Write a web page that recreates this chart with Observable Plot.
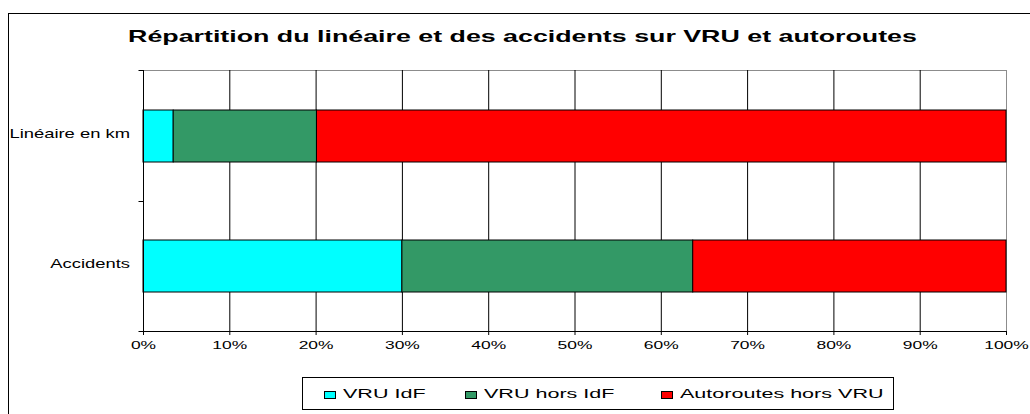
<!DOCTYPE html>
<html>
<head>
<meta charset="utf-8">
<script src="https://cdn.jsdelivr.net/npm/d3@7"></script>
<script src="https://cdn.jsdelivr.net/npm/@observablehq/plot@0.6"></script>
<style>
  html, body { margin: 0; padding: 0; background: #fff; overflow: hidden; }
  #wrap { position: relative; width: 1030px; height: 414px; font-family: "Liberation Sans", Arial, sans-serif; color: #000; }
  #chart { position: absolute; left: 0; top: 0; }
  #border { position: absolute; left: 8px; top: 13px; width: 1100px; height: 500px; border: 1px solid #000; box-sizing: border-box; pointer-events: none; }
  #title { position: absolute; left: 0; top: 28px; width: 1044px; text-align: center; font-weight: bold; font-size: 17.3px; line-height: 1; white-space: nowrap; }
  #title span { display: inline-block; transform: scaleX(1.55); transform-origin: 50% 50%; }
  #legend { position: absolute; left: 302px; top: 377px; width: 592px; height: 33px; border: 1px solid #000; box-sizing: border-box; }
  .sw { position: absolute; width: 10px; height: 6px; border: 1px solid #000; }
  .lt { position: absolute; font-size: 12.6px; line-height: 1; white-space: nowrap; transform: scaleX(1.71); transform-origin: 0 50%; }
</style>
</head>
<body>
<div id="wrap">
  <div id="chart"></div>
  <div id="title"><span></span></div>
  <div id="legend"></div>
  <div id="border"></div>
</div>
<script>
// ---- data ----
const chartTitle = "Répartition du linéaire et des accidents sur VRU et autoroutes";
const categories = ["Linéaire en km", "Accidents"];
const series = ["VRU IdF", "VRU hors IdF", "Autoroutes hors VRU"];
const seriesColors = ["#00FFFF", "#339966", "#FF0000"];
const lineaireShares = [0.035, 0.166, 0.799];
const accidentShares = [0.300, 0.337, 0.363];
const xTicks = [0, 0.1, 0.2, 0.3, 0.4, 0.5, 0.6, 0.7, 0.8, 0.9, 1];
const xTickLabels = ["0%", "10%", "20%", "30%", "40%", "50%", "60%", "70%", "80%", "90%", "100%"];

const shares = [lineaireShares, accidentShares];
const rows = [];
categories.forEach((c, ci) => series.forEach((s, si) => rows.push({category: c, series: s, value: shares[ci][si]})));

// boundary ticks on the category axis + bottom axis line
function categoryAxisFrame(index, scales, values, dims) {
  const {width, height, marginLeft, marginRight, marginTop, marginBottom} = dims;
  const x0 = marginLeft, x1 = width - marginRight, y0 = marginTop, y1 = height - marginBottom;
  const n = categories.length;
  const g = d3.create("svg:g").attr("stroke", "#000").attr("fill", "none").attr("transform", "translate(0.5,0.5)");
  for (let k = 0; k <= n; k++) {
    const y = Math.round(y0 + k * (y1 - y0) / n);
    g.append("path").attr("d", `M${x0 - 5},${y}H${x0}`);
  }
  g.append("path").attr("d", `M${x0},${y1}H${x1}`);
  return g.node();
}

const plot = Plot.plot({
  width: 1030,
  height: 360,
  marginTop: 70,
  marginBottom: 29,
  marginLeft: 143,
  marginRight: 24,
  style: {fontFamily: "'Liberation Sans', Arial, sans-serif", background: "transparent", color: "#000"},
  x: {domain: [0, 1]},
  y: {domain: categories, paddingInner: 0.6, paddingOuter: 0.3},
  color: {domain: series, range: seriesColors},
  marks: [
    Plot.frame({stroke: "#8c8c8c"}),
    Plot.gridX(xTicks.filter(t => t > 0 && t < 1), {stroke: "#000", strokeOpacity: 1}),
    Plot.barX(rows, Plot.stackX({x: "value", y: "category", fill: "series", stroke: "#000", strokeWidth: 1})),
    Plot.ruleX([0], {stroke: "#000"}),
    categoryAxisFrame,
    Plot.axisX(xTicks, {tickSize: 4, tickPadding: 13, fontSize: 10.5, label: null, stroke: "#000",
      tickFormat: d => { const i = xTicks.indexOf(d); return i >= 0 ? xTickLabels[i] : d3.format(".0%")(d); }}),
    Plot.axisY({tickSize: 0, tickPadding: 13.5, fontSize: 12.6, label: null, dy: 1})
  ]
});
document.getElementById("chart").appendChild(plot);

function stretch(selector, s) {
  plot.querySelectorAll(selector).forEach(t => {
    const x = +t.getAttribute("x") || 0, y = +t.getAttribute("y") || 0;
    t.removeAttribute("x"); t.removeAttribute("y");
    const tr = t.getAttribute("transform") || "";
    t.setAttribute("transform", `${tr} translate(${x},${y}) scale(${s},1)`);
  });
}
stretch('g[aria-label="x-axis tick label"] text', 1.66);
stretch('g[aria-label="y-axis tick label"] text', 1.46);

document.querySelector("#title span").textContent = chartTitle;

// legend
const legend = document.getElementById("legend");
const swatchX = [21, 162, 358];
const textX = [40, 181, 377];
series.forEach((s, i) => {
  const sw = document.createElement("div");
  sw.className = "sw";
  sw.style.left = swatchX[i] + "px";
  sw.style.top = "13px";
  sw.style.background = seriesColors[i];
  legend.appendChild(sw);
  const t = document.createElement("div");
  t.className = "lt";
  t.style.left = textX[i] + "px";
  t.style.top = "10px";
  t.textContent = s;
  legend.appendChild(t);
});
</script>
</body>
</html>
